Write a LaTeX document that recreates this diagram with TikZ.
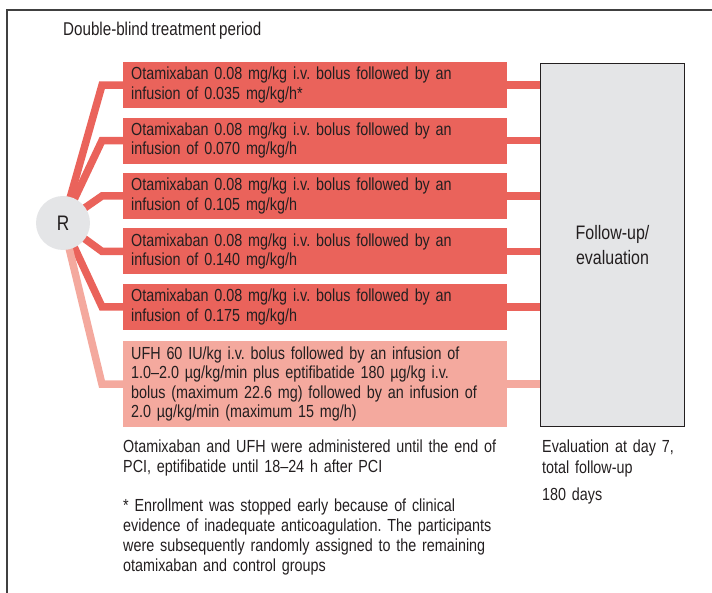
\documentclass[tikz,border=0pt]{standalone}
\usepackage{fontspec}
\setmainfont{Liberation Sans}[FakeStretch=0.82, WordSpace=0.8]
\usetikzlibrary{positioning,backgrounds}
\definecolor{armred}{RGB}{234,99,91}
\definecolor{armpink}{RGB}{244,169,158}
\definecolor{boxgray}{RGB}{228,229,231}
\definecolor{inkgray}{RGB}{35,31,32}
\frenchspacing
\tikzset{
  arm/.style={fill=armred, text=inkgray, inner xsep=8pt, inner ysep=0pt,
    text width=368pt, align=left, minimum height=46pt,
    font=\fontsize{17.5}{19.5}\selectfont},
  link/.style={line width=7.5pt},
  note/.style={text=inkgray, inner sep=0pt, align=left, anchor=north west}
}
\begin{document}
\begin{tikzpicture}[x=1pt,y=-1pt]
  \useasboundingbox (0,0) rectangle (712,593);
  \draw[line width=1.6pt, black!75] (7,593) -- (7,10) -- (712,10);
  \node[note, anchor=base west, font=\fontsize{18.5}{20}\selectfont] (title) at (63,36) {Double-blind treatment period};

  \node[circle, fill=boxgray, minimum size=54pt, inner sep=0pt, text=inkgray,
    font=\fontsize{21}{24}\selectfont] (R) at (63,223) {R};

  \node[arm, anchor=north west] (a1) at (123,62) {Otamixaban 0.08 mg/kg i.v. bolus followed by an\\infusion of 0.035 mg/kg/h*};
  \node[arm, below=9pt of a1] (a2) {Otamixaban 0.08 mg/kg i.v. bolus followed by an\\infusion of 0.070 mg/kg/h};
  \node[arm, below=9pt of a2] (a3) {Otamixaban 0.08 mg/kg i.v. bolus followed by an\\infusion of 0.105 mg/kg/h};
  \node[arm, below=9pt of a3] (a4) {Otamixaban 0.08 mg/kg i.v. bolus followed by an\\infusion of 0.140 mg/kg/h};
  \node[arm, below=9pt of a4] (a5) {Otamixaban 0.08 mg/kg i.v. bolus followed by an\\infusion of 0.175 mg/kg/h};
  \node[arm, fill=armpink, minimum height=86pt, below=11pt of a5] (a6) {UFH 60 IU/kg i.v. bolus followed by an infusion of\\1.0--2.0 µg/kg/min plus eptifibatide 180 µg/kg i.v.\\bolus (maximum 22.6 mg) followed by an infusion of\\2.0 µg/kg/min (maximum 15 mg/h)};

  \node[draw=inkgray, line width=1.1pt, fill=boxgray, anchor=north west, minimum width=144pt,
    minimum height=363pt, align=center, text=inkgray,
    font=\fontsize{19.5}{25}\selectfont] (fu) at (540,63) {Follow-up/\\evaluation};

  \begin{scope}[on background layer]
    \foreach \i/\c in {1/armred,2/armred,3/armred,4/armred,5/armred,6/armpink} {
      \draw[link, \c] (R.center) -- ([xshift=-21pt]a\i.west) -- (a\i.west);
      \draw[link, \c] (a\i.east) -- (a\i.east -| fu.west);
    }
  \end{scope}

  \node[note, text width=400pt, font=\fontsize{17.5}{20}\selectfont] (admin) at (123,440)
    {Otamixaban and UFH were administered until the end of\\PCI, eptifibatide until 18--24 h after PCI\\[19pt]
     * Enrollment was stopped early because of clinical\\evidence of inadequate anticoagulation. The participants\\were subsequently randomly assigned to the remaining\\otamixaban and control groups};
  \node[note, text width=165pt, font=\fontsize{17.5}{21}\selectfont] (eval) at (542,440)
    {Evaluation at day 7,\\total follow-up\\[6pt]180 days};
\end{tikzpicture}
\end{document}
